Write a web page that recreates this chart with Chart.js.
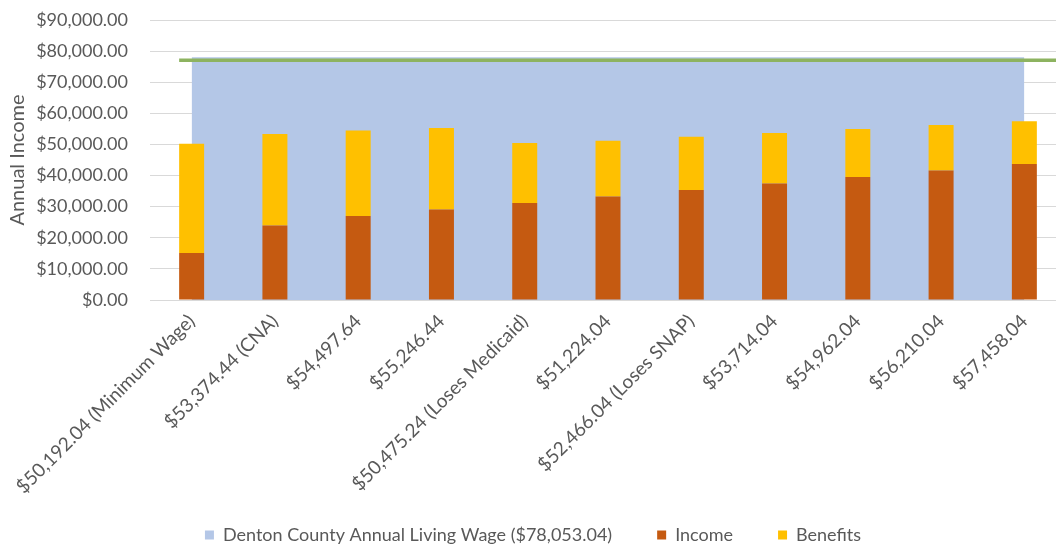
<!DOCTYPE html>
<html>
<head>
<meta charset="utf-8">
<script src="https://cdn.jsdelivr.net/npm/chart.js@4/dist/chart.umd.min.js"></script>
<style>
    html, body { margin: 0; padding: 0; background: #fff; overflow: hidden; }
    #wrap { width: 1066px; height: 546px; }
</style>
</head>
<body>
<div id="wrap"><canvas id="incomeChart"></canvas></div>
<script>
// Data
const categories = [
    "$50,192.04 (Minimum Wage)", "$53,374.44 (CNA)", "$54,497.64", "$55,246.44",
    "$50,475.24 (Loses Medicaid)", "$51,224.04", "$52,466.04 (Loses SNAP)",
    "$53,714.04", "$54,962.04", "$56,210.04", "$57,458.04"
];
const income = [15080, 23920, 27040, 29120, 31200, 33280, 35360, 37440, 39520, 41600, 43680];
const benefits = [35112.04, 29454.44, 27457.64, 26126.44, 19275.24, 17944.04, 17106.04, 16274.04, 15442.04, 14610.04, 13778.04];
const livingWage = [78053.04, 78053.04, 78053.04, 78053.04, 78053.04, 78053.04, 78053.04, 78053.04, 78053.04, 78053.04, 78053.04];
const wageLine = [77100];
const yTicks = [0, 10000, 20000, 30000, 40000, 50000, 60000, 70000, 80000, 90000];

const textColor = "#595959";
const money = v => "$" + Number(v).toLocaleString("en-US", { minimumFractionDigits: 2, maximumFractionDigits: 2 });

/* green line across the top of the living wage area */
const greenLine = {
    id: "greenLine",
    afterLayout(chart) {
        // legend box is kept short (maxHeight), so stretch it upward to fit its row
        chart.legend.top -= 19;
    },
    afterDatasetsDraw(chart) {
        const ctx = chart.ctx;
        const y = chart.scales.y.getPixelForValue(wageLine[0]);
        const firstBar = chart.getDatasetMeta(1).data[0];
        const x0 = firstBar.x - firstBar.width / 2;
        ctx.save();
        ctx.strokeStyle = "#8DB360";
        ctx.lineWidth = 3.5;
        ctx.beginPath();
        ctx.moveTo(x0, y);
        ctx.lineTo(chart.chartArea.right, y);
        ctx.stroke();
        ctx.restore();
    }
};

Chart.defaults.font.family = "Lato, 'Open Sans', sans-serif";
Chart.defaults.color = textColor;

new Chart(document.getElementById("incomeChart"), {
    type: "bar",
    data: {
        labels: categories,
        datasets: [
            {
                type: "line",
                label: "Denton County Annual Living Wage ($78,053.04)",
                data: livingWage,
                stack: "wage",
                fill: "origin",
                backgroundColor: "#B4C7E7",
                borderWidth: 0,
                pointRadius: 0,
                order: 2
            },
            {
                label: "Income",
                data: income,
                stack: "pay",
                backgroundColor: "#C55A11",
                barPercentage: 0.3,
                categoryPercentage: 1,
                order: 1
            },
            {
                label: "Benefits",
                data: benefits,
                stack: "pay",
                backgroundColor: "#FFC000",
                barPercentage: 0.3,
                categoryPercentage: 1,
                order: 1
            }
        ]
    },
    options: {
        responsive: true,
        maintainAspectRatio: false,
        animation: false,
        layout: { padding: { top: 9, left: 0, right: 0, bottom: 0 } },
        plugins: {
            tooltip: { enabled: false },
            legend: {
                position: "bottom",
                maxHeight: 46,
                labels: {
                    boxWidth: 9,
                    boxHeight: 9,
                    padding: 45,
                    font: { size: 18 },
                    color: textColor,
                    sort: (a, b) => a.datasetIndex - b.datasetIndex
                }
            }
        },
        scales: {
            x: {
                stacked: true,
                grid: { display: false },
                border: { color: "#D9D9D9", width: 1 },
                ticks: {
                    autoSkip: false,
                    minRotation: 45,
                    maxRotation: 45,
                    font: { size: 19 },
                    color: textColor,
                    padding: 2
                },
                afterFit: scale => {
                    scale.height = 200;
                    scale.paddingLeft = 0;
                }
            },
            y: {
                stacked: true,
                min: 0,
                max: 90000,
                afterBuildTicks: axis => { axis.ticks = yTicks.map(v => ({ value: v })); },
                grid: { color: "#D9D9D9", drawTicks: false },
                border: { display: false },
                ticks: {
                    callback: v => money(v),
                    font: { size: 18 },
                    color: textColor,
                    padding: 22
                },
                title: {
                    display: true,
                    text: "Annual Income",
                    font: { size: 20 },
                    color: textColor,
                    padding: 6
                },
                afterFit: scale => {
                    scale.width = 150;
                    scale.paddingTop = 20;
                }
            }
        }
    },
    plugins: [greenLine]
});
</script>
</body>
</html>
